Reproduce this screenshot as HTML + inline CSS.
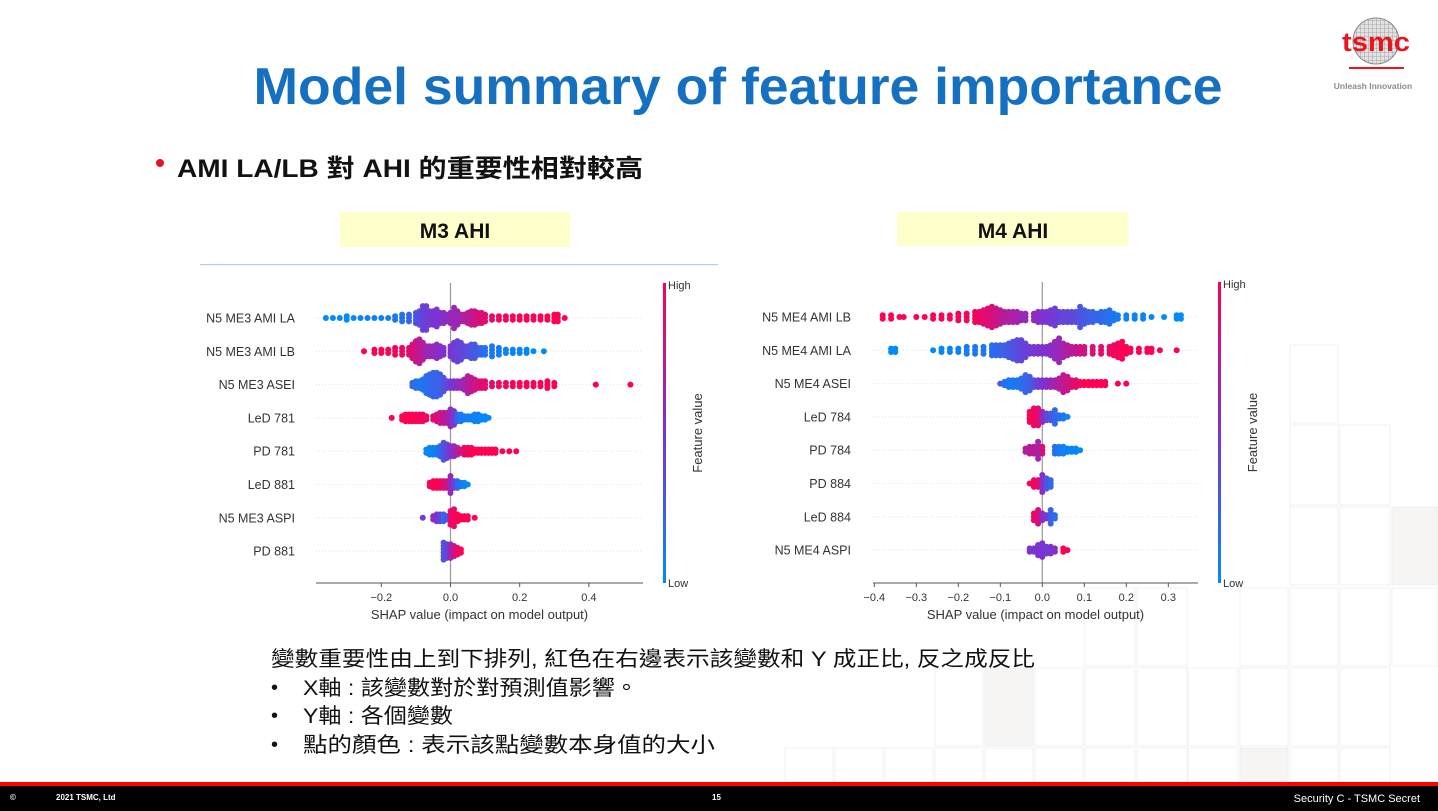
<!DOCTYPE html>
<html><head><meta charset="utf-8"><style>
html,body{margin:0;padding:0;background:#fff;}
svg{display:block;}
text{font-family:"Liberation Sans","Noto Sans CJK TC",sans-serif;}
</style></head><body>
<svg id="page" width="1438" height="811" viewBox="0 0 1438 811" xmlns="http://www.w3.org/2000/svg">
<defs>
<linearGradient id="cbar" x1="0" y1="1" x2="0" y2="0">
<stop offset="0" stop-color="#008bfb"/><stop offset="0.5" stop-color="#7d32d2"/><stop offset="1" stop-color="#ff0052"/>
</linearGradient>
<pattern id="hatch" width="4" height="4" patternUnits="userSpaceOnUse">
<rect width="4" height="4" fill="#e2e2e2"/><path d="M0 0H4M0 0V4" stroke="#777" stroke-width="0.6"/>
</pattern>
</defs>
<g fill="none" stroke="#f0f0f0" stroke-width="1">
<rect x="1290" y="345" width="48" height="78"/><rect x="1290" y="425" width="48" height="80"/><rect x="1340" y="425" width="50" height="80"/>
<rect x="1290" y="507" width="48" height="78"/><rect x="1340" y="507" width="50" height="78"/><rect x="1392" y="507" width="46" height="78" fill="#f6f5f4"/>
<rect x="1290" y="588" width="48" height="78"/><rect x="1340" y="588" width="50" height="78"/><rect x="1392" y="588" width="46" height="78"/>
<rect x="1085" y="588" width="50" height="78"/><rect x="1137" y="588" width="50" height="78"/><rect x="1240" y="588" width="48" height="78"/>
<rect x="935" y="668" width="48" height="78"/><rect x="985" y="668" width="48" height="78" fill="#f6f5f4"/><rect x="1035" y="668" width="48" height="78"/>
<rect x="1085" y="668" width="50" height="78"/><rect x="1137" y="668" width="50" height="78"/><rect x="1188" y="668" width="50" height="78"/>
<rect x="1240" y="668" width="48" height="78"/><rect x="1290" y="668" width="48" height="78"/><rect x="1340" y="668" width="50" height="78"/>
<rect x="785" y="748" width="48" height="34"/><rect x="835" y="748" width="48" height="34"/><rect x="885" y="748" width="48" height="34"/>
<rect x="935" y="748" width="48" height="34"/><rect x="985" y="748" width="48" height="34"/><rect x="1035" y="748" width="48" height="34"/>
<rect x="1085" y="748" width="50" height="34"/><rect x="1137" y="748" width="50" height="34"/><rect x="1188" y="748" width="50" height="34"/>
<rect x="1240" y="748" width="48" height="34" fill="#f6f5f4"/><rect x="1290" y="748" width="48" height="34"/><rect x="1340" y="748" width="50" height="34"/>
</g>

<g>
<circle cx="1376" cy="41" r="23" fill="url(#hatch)" stroke="#888" stroke-width="1"/>
<text x="1376" y="51" text-anchor="middle" font-size="27" font-weight="bold" fill="#e8141e" textLength="68" lengthAdjust="spacingAndGlyphs">tsmc</text>
<rect x="1349" y="67" width="55" height="2" fill="#e8141e"/>
<text x="1373" y="89" text-anchor="middle" font-size="8.5" font-weight="bold" fill="#8a8a8a">Unleash Innovation</text>
</g>

<text x="738" y="104" text-anchor="middle" font-size="52" font-weight="bold" fill="#1570c0" textLength="969" lengthAdjust="spacingAndGlyphs">Model summary of feature importance</text>

<circle cx="160" cy="163" r="4" fill="#e8141e"/>
<text x="177" y="177" font-size="25" font-weight="bold" fill="#111" textLength="466" lengthAdjust="spacingAndGlyphs">AMI LA/LB 對 AHI 的重要性相對較高</text>

<g>
<rect x="340" y="212" width="230" height="35" fill="#ffffcc"/>
<text x="455" y="238" text-anchor="middle" font-size="21" font-weight="bold" fill="#111">M3 AHI</text>
</g>
<g>
<rect x="897" y="212" width="231" height="34" fill="#ffffcc"/>
<text x="1013" y="238" text-anchor="middle" font-size="21" font-weight="bold" fill="#111">M4 AHI</text>
</g>
<rect x="200" y="264" width="518" height="1.2" fill="#b5d0e6"/>

<g id="chart1"></g>
<g id="chart2"></g>

<g fill="#111">
<text x="271" y="666" font-size="21" textLength="764" lengthAdjust="spacingAndGlyphs">變數重要性由上到下排列, 紅色在右邊表示該變數和 Y 成正比, 反之成反比</text>
<text x="271" y="694" font-size="20">•</text><text x="303" y="695" font-size="21" textLength="335" lengthAdjust="spacingAndGlyphs">X軸 : 該變數對於對預測值影響。</text>
<text x="271" y="722" font-size="20">•</text><text x="303" y="723" font-size="21" textLength="150" lengthAdjust="spacingAndGlyphs">Y軸 : 各個變數</text>
<text x="271" y="751" font-size="20">•</text><text x="303" y="752" font-size="21" textLength="412" lengthAdjust="spacingAndGlyphs">點的顏色 : 表示該點變數本身值的大小</text>
</g>

<g>
<rect x="0" y="782" width="1438" height="4" fill="#ff0000"/>
<rect x="0" y="786" width="1438" height="25" fill="#000"/>
<text x="10" y="800" font-size="8" font-weight="bold" fill="#fff">©</text>
<text x="56" y="800" font-size="8" font-weight="bold" fill="#fff">2021 TSMC, Ltd</text>
<text x="712" y="800" font-size="8" font-weight="bold" fill="#fff">15</text>
<text x="1420" y="802" text-anchor="end" font-size="11" fill="#fff">Security C - TSMC Secret</text>
</g>
</svg>
<script>
// ---------- M3 data ----------
const m3Features = ["N5 ME3 AMI LA","N5 ME3 AMI LB","N5 ME3 ASEI","LeD 781","PD 781","LeD 881","N5 ME3 ASPI","PD 881"];
const m3Ticks = [-0.2, 0.0, 0.2, 0.4];
// bins: [shap value, stacked count, feature value 0..1]
const m3Row1 = [[-0.36,1,0],[-0.34,1,0],[-0.32,1,0],[-0.30,2,0],[-0.28,1,0],[-0.26,1,0.02],[-0.24,1,0.05],[-0.22,1,0.05],[-0.20,1,0.05],[-0.18,1,0.05],[-0.16,2,0.1],[-0.14,3,0.15],[-0.12,3,0.2],[-0.10,4,0.3],[-0.09,5,0.35],[-0.08,8,0.4],[-0.07,8,0.45],[-0.06,5,0.45],[-0.05,5,0.5],[-0.04,6,0.5],[-0.03,4,0.5],[-0.02,4,0.55],[-0.01,3,0.55],[0,4,0.6],[0.01,7,0.6],[0.02,5,0.62],[0.03,3,0.65],[0.04,3,0.7],[0.05,4,0.72],[0.06,5,0.75],[0.07,5,0.8],[0.08,4,0.85],[0.09,4,0.85],[0.10,3,0.9],[0.12,2,0.92],[0.14,2,0.95],[0.16,2,0.95],[0.18,2,0.97],[0.20,2,0.97],[0.22,2,1],[0.24,2,1],[0.26,2,1],[0.28,2,1],[0.30,3,1],[0.31,3,1],[0.33,1,1]];
const m3Row2 = [[-0.25,1,1],[-0.22,2,1],[-0.20,2,1],[-0.18,2,1],[-0.16,3,0.95],[-0.14,3,0.95],[-0.12,3,0.9],[-0.11,5,0.85],[-0.10,7,0.8],[-0.09,8,0.75],[-0.08,6,0.7],[-0.07,4,0.65],[-0.06,4,0.6],[-0.05,4,0.6],[-0.04,5,0.55],[-0.03,4,0.55],[-0.02,3,0.5],[0,4,0.5],[0.01,6,0.45],[0.02,7,0.42],[0.03,6,0.4],[0.04,4,0.38],[0.05,4,0.35],[0.06,5,0.3],[0.07,5,0.3],[0.08,3,0.25],[0.09,3,0.2],[0.10,3,0.15],[0.12,4,0.1],[0.14,3,0.08],[0.16,2,0.05],[0.18,2,0.05],[0.20,2,0.03],[0.22,2,0.02],[0.24,1,0],[0.27,1,0]];
const m3Row3 = [[-0.11,2,0.2],[-0.10,3,0.15],[-0.09,3,0.12],[-0.08,4,0.12],[-0.07,6,0.15],[-0.06,7,0.2],[-0.05,8,0.2],[-0.04,8,0.22],[-0.03,7,0.25],[-0.02,5,0.3],[-0.01,3,0.4],[0,3,0.45],[0.01,3,0.5],[0.02,3,0.55],[0.03,3,0.6],[0.04,4,0.65],[0.05,6,0.7],[0.06,5,0.75],[0.07,4,0.8],[0.08,3,0.85],[0.09,3,0.85],[0.10,3,0.9],[0.12,2,0.92],[0.14,2,0.95],[0.16,2,0.95],[0.18,2,0.97],[0.20,2,1],[0.22,2,1],[0.24,2,1],[0.26,2,1],[0.28,3,1],[0.30,2,1],[0.42,1,1],[0.52,1,1]];
const m3Row4 = [[-0.17,1,1],[-0.14,2,1],[-0.13,3,1],[-0.12,3,1],[-0.11,3,1],[-0.10,3,1],[-0.09,3,0.95],[-0.08,3,0.95],[-0.07,2,0.95],[-0.05,2,0.9],[-0.04,3,0.85],[-0.03,4,0.8],[-0.02,4,0.75],[-0.01,4,0.7],[0,6,0.6],[0.01,5,0.45],[0.02,3,0.2],[0.03,3,0.1],[0.04,2,0.1],[0.05,2,0.05],[0.06,2,0.05],[0.07,3,0.05],[0.08,3,0.05],[0.09,2,0.03],[0.10,2,0.02],[0.11,1,0]];
const m3Row5 = [[-0.07,2,0],[-0.06,3,0.05],[-0.05,3,0.05],[-0.04,3,0.1],[-0.03,4,0.2],[-0.02,6,0.3],[-0.01,5,0.4],[0,4,0.5],[0.01,4,0.6],[0.02,3,0.7],[0.03,2,0.8],[0.04,3,0.9],[0.05,3,0.95],[0.06,3,1],[0.07,2,1],[0.08,2,1],[0.09,2,1],[0.10,2,1],[0.11,2,1],[0.12,2,1],[0.13,2,1],[0.15,1,1],[0.17,1,1],[0.19,1,1]];
const m3Row6 = [[-0.06,2,1],[-0.05,3,1],[-0.04,3,1],[-0.03,3,0.95],[-0.02,3,0.9],[-0.01,3,0.8],[0,6,0.6],[0.01,3,0.4],[0.02,3,0.2],[0.03,2,0.1],[0.04,2,0.05],[0.05,1,0]];
const m3Row7 = [[-0.08,1,0.45],[-0.05,2,0.6],[-0.04,3,0.5],[-0.03,3,0.4],[-0.02,3,0.2],[-0.01,2,0.3],[0,5,0.9],[0.01,6,0.95],[0.02,3,1],[0.03,2,1],[0.04,2,1],[0.05,2,1],[0.07,1,1]];
const m3Row8 = [[-0.02,6,0.3],[-0.01,5,0.4],[0,5,0.6],[0.01,4,0.8],[0.02,3,0.9],[0.03,2,1]];
const m3Rows = [m3Row1,m3Row2,m3Row3,m3Row4,m3Row5,m3Row6,m3Row7,m3Row8];

// ---------- M4 data ----------
const m4Features = ["N5 ME4 AMI LB","N5 ME4 AMI LA","N5 ME4 ASEI","LeD 784","PD 784","PD 884","LeD 884","N5 ME4 ASPI"];
const m4Ticks = [-0.4,-0.3,-0.2,-0.1,0.0,0.1,0.2,0.3];
const m4Row1 = [[-0.38,2,1],[-0.36,2,1],[-0.34,1,1],[-0.33,1,1],[-0.30,1,1],[-0.28,1,1],[-0.26,2,1],[-0.24,2,1],[-0.22,2,1],[-0.20,3,0.98],[-0.18,3,0.97],[-0.16,4,0.95],[-0.15,4,0.93],[-0.14,5,0.9],[-0.13,6,0.88],[-0.12,7,0.85],[-0.11,6,0.8],[-0.10,5,0.75],[-0.09,4,0.72],[-0.08,4,0.7],[-0.07,4,0.68],[-0.06,4,0.65],[-0.05,3,0.62],[-0.04,3,0.6],[-0.02,3,0.58],[-0.01,4,0.55],[0,4,0.5],[0.01,4,0.5],[0.02,5,0.48],[0.03,6,0.45],[0.04,4,0.42],[0.05,4,0.4],[0.06,4,0.4],[0.07,4,0.38],[0.08,4,0.35],[0.09,7,0.3],[0.10,5,0.28],[0.11,4,0.25],[0.12,4,0.22],[0.13,3,0.2],[0.14,4,0.2],[0.15,4,0.15],[0.16,5,0.15],[0.17,3,0.1],[0.18,2,0.08],[0.20,2,0.05],[0.22,2,0.05],[0.24,2,0.03],[0.26,1,0.02],[0.29,1,0],[0.32,2,0],[0.33,2,0]];
const m4Row2 = [[-0.36,2,0],[-0.35,2,0],[-0.26,1,0],[-0.24,2,0.02],[-0.22,2,0.03],[-0.20,2,0.05],[-0.18,3,0.08],[-0.16,3,0.1],[-0.14,3,0.12],[-0.12,4,0.15],[-0.11,4,0.2],[-0.10,4,0.22],[-0.09,4,0.25],[-0.08,5,0.28],[-0.07,6,0.32],[-0.06,7,0.35],[-0.05,7,0.38],[-0.04,5,0.42],[-0.03,3,0.45],[-0.02,3,0.45],[-0.01,3,0.5],[0,3,0.5],[0.01,3,0.52],[0.02,4,0.55],[0.03,6,0.58],[0.04,8,0.6],[0.05,5,0.65],[0.06,4,0.7],[0.07,3,0.72],[0.08,3,0.75],[0.09,3,0.8],[0.10,3,0.82],[0.12,3,0.85],[0.14,3,0.9],[0.16,3,0.92],[0.17,4,0.95],[0.18,5,0.97],[0.19,6,1],[0.20,3,1],[0.21,2,1],[0.23,2,1],[0.25,2,1],[0.26,2,1],[0.28,1,1],[0.32,1,1]];
const m4Row3 = [[-0.10,1,0.3],[-0.09,2,0.15],[-0.08,3,0.1],[-0.07,3,0.1],[-0.06,3,0.12],[-0.05,4,0.15],[-0.04,6,0.2],[-0.03,5,0.25],[-0.02,3,0.35],[-0.01,3,0.45],[0,3,0.5],[0.01,3,0.55],[0.02,3,0.6],[0.03,3,0.65],[0.04,4,0.7],[0.05,6,0.75],[0.06,5,0.8],[0.07,3,0.85],[0.08,3,0.9],[0.09,2,0.95],[0.10,2,1],[0.11,2,1],[0.12,2,1],[0.13,2,1],[0.14,2,1],[0.15,2,1],[0.18,1,1],[0.20,1,1]];
const m4Row4 = [[-0.03,4,1],[-0.02,6,0.95],[-0.01,6,0.9],[0,4,0.6],[0.01,3,0.35],[0.02,3,0.3],[0.03,5,0.2],[0.04,2,0.15],[0.05,2,0.1],[0.06,1,0.05]];
const m4Row5 = [[-0.04,2,0.7],[-0.03,3,0.72],[-0.02,3,0.75],[-0.01,6,0.65],[0,3,0.85],[0.03,3,0.15],[0.04,3,0.1],[0.05,3,0.05],[0.06,2,0.05],[0.07,2,0.03],[0.08,2,0.02],[0.09,1,0]];
const m4Row6 = [[-0.03,1,1],[-0.02,3,0.95],[-0.01,3,0.9],[0,6,0.55],[0.01,4,0.3],[0.02,3,0.2]];
const m4Row7 = [[-0.02,3,0.95],[-0.01,5,0.85],[0,3,0.55],[0.01,2,0.45],[0.02,5,0.25],[0.03,2,0.15]];
const m4Row8 = [[-0.03,2,0.5],[-0.02,2,0.5],[-0.01,4,0.5],[0,5,0.5],[0.01,3,0.45],[0.02,3,0.5],[0.03,2,0.55],[0.05,2,1],[0.06,1,1]];
const m4Rows = [m4Row1,m4Row2,m4Row3,m4Row4,m4Row5,m4Row6,m4Row7,m4Row8];

const NS = "http://www.w3.org/2000/svg";
function mk(tag, attrs, parent){
  const e = document.createElementNS(NS, tag);
  for (const k in attrs) e.setAttribute(k, attrs[k]);
  parent.appendChild(e); return e;
}
function color(v){
  const a=[0,139,251], m=[125,50,210], b=[255,0,82];
  let c;
  if (v<0.5){const t=v/0.5; c=a.map((x,i)=>Math.round(x+(m[i]-x)*t));}
  else {const t=(v-0.5)/0.5; c=m.map((x,i)=>Math.round(x+(b[i]-x)*t));}
  return "rgb("+c.join(",")+")";
}
function drawChart(g, cfg, features, rows, ticks){
  const sx = v => cfg.x0 + v*cfg.unit;
  const sy = i => cfg.rowTop + i*cfg.rowGap;
  features.forEach((f,i)=>{
    const ln = mk("line",{x1:cfg.axL,x2:cfg.axR,y1:sy(i),y2:sy(i),stroke:"#e4e4e4","stroke-dasharray":"1,2","stroke-width":1},g);
    
    
  });
  const z = mk("line",{x1:sx(0),x2:sx(0),y1:cfg.top,y2:cfg.axY,stroke:"#999","stroke-width":1.2},g);
  
  
  rows.forEach((row,i)=>{
    const rg = mk("g",{},g);
    
    
    row.forEach(b=>{
      const n=b[1];
      for(let k=0;k<n;k++){
        const off=(k-(n-1)/2)*cfg.pitch;
        const c = mk("circle",{cx:sx(b[0]).toFixed(1),cy:(sy(i)+off).toFixed(1),r:3,fill:color(b[2])},rg);
        
        
      }
    });
    const t = mk("text",{x:cfg.labelX,y:sy(i)+4.5,"text-anchor":"end","font-size":12.5,fill:"#333"},g);
    t.textContent = features[i];
    
    
  });
  const ax = mk("line",{x1:cfg.axL,x2:cfg.axR,y1:cfg.axY,y2:cfg.axY,stroke:"#555","stroke-width":1},g);
  
  
  ticks.forEach(v=>{
    const tk = mk("line",{x1:sx(v),x2:sx(v),y1:cfg.axY,y2:cfg.axY+4,stroke:"#555"},g);
    
    
    const tl = mk("text",{x:sx(v),y:cfg.axY+18,"text-anchor":"middle","font-size":11,fill:"#333"},g);
    tl.textContent = (v<0?"\u2212":"")+Math.abs(v).toFixed(1);
    
    
  });
  const xl = mk("text",{x:(cfg.axL+cfg.axR)/2,y:cfg.axY+36,"text-anchor":"middle","font-size":13,fill:"#333"},g);
  xl.textContent = "SHAP value (impact on model output)";
  
  
  const cb = mk("rect",{x:cfg.cbX,y:cfg.top,width:3,height:cfg.axY-cfg.top,fill:"url(#cbar)"},g);
  
  
  const hi = mk("text",{x:cfg.cbX+5,y:cfg.top+6,"font-size":11,fill:"#333"},g);
  hi.textContent="High";
  
  
  const lo = mk("text",{x:cfg.cbX+5,y:cfg.axY+4,"font-size":11,fill:"#333"},g);
  lo.textContent="Low";
  
  
  const fy=(cfg.top+cfg.axY)/2;
  const fv = mk("text",{x:cfg.cbX+39,y:fy,"text-anchor":"middle","font-size":13,fill:"#333",transform:"rotate(-90 "+(cfg.cbX+39)+" "+fy+")"},g);
  fv.textContent="Feature value";
  
  
}
drawChart(document.getElementById("chart1"),
  {x0:450.5,unit:346,axL:316,axR:643,axY:583,top:283,rowTop:318,rowGap:33.3,pitch:3.4,labelX:295,cbX:663},
  m3Features, m3Rows, m3Ticks);
drawChart(document.getElementById("chart2"),
  {x0:1042.3,unit:420,axL:873,axR:1198,axY:583,top:282,rowTop:317,rowGap:33.3,pitch:3.4,labelX:851,cbX:1218},
  m4Features, m4Rows, m4Ticks);
</script>
</body></html>
